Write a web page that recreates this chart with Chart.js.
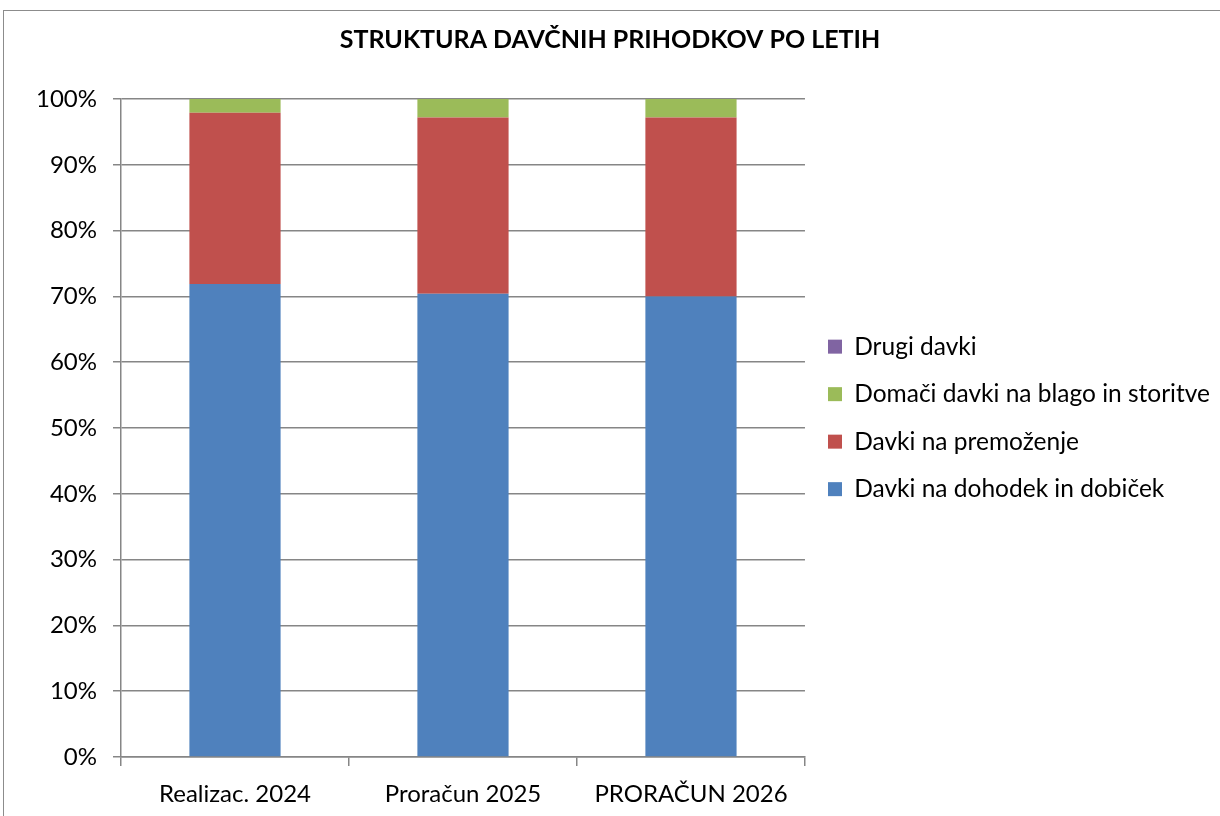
<!DOCTYPE html>
<html lang="sl">
<head>
    <meta charset="UTF-8">
    <title>Struktura davčnih prihodkov po letih</title>
    <script src="https://cdn.jsdelivr.net/npm/chart.js"></script>
    <style>
        body { margin: 0; background: #fff; overflow: hidden; }
        .okvir {
            position: absolute; left: 3px; top: 10px;
            width: 1300px; height: 900px;
            border: 1.5px solid #8c8c8c;
        }
        .platno { position: absolute; left: 0; top: 0; width: 1220px; height: 816px; }
    </style>
</head>
<body>
    <div class="okvir"></div>
    <div class="platno">
        <canvas id="graf" width="1220" height="816"></canvas>
    </div>
<script>
    // podatki (delež v %)
    var leta = ['Realizac. 2024', 'Proračun 2025', 'PRORAČUN 2026'];
    var dohodek = [71.9, 70.4, 70.0];
    var premozenje = [26.0, 26.8, 27.2];
    var blagoStoritve = [2.1, 2.8, 2.8];
    var drugi = [0, 0, 0];
    var odstotki = [0, 10, 20, 30, 40, 50, 60, 70, 80, 90, 100];

    var pisava = 'Lato, "Open Sans", sans-serif';
    var siva = '#868686';

    const data = {
        labels: leta,
        datasets: [
            { label: 'Davki na dohodek in dobiček', data: dohodek, backgroundColor: '#4F81BD' },
            { label: 'Davki na premoženje', data: premozenje, backgroundColor: '#C0504D' },
            { label: 'Domači davki na blago in storitve', data: blagoStoritve, backgroundColor: '#9BBB59' },
            { label: 'Drugi davki', data: drugi, backgroundColor: '#8064A2' }
        ]
    };

    const options = {
        responsive: false,
        animation: false,
        layout: { padding: 0 },
        datasets: { bar: { barPercentage: 0.4, categoryPercentage: 1.0, borderWidth: 0 } },
        plugins: {
            tooltip: { enabled: false },
            title: {
                display: true,
                text: 'STRUKTURA DAVČNIH PRIHODKOV PO LETIH',
                color: '#000',
                font: { family: pisava, size: 25, weight: 'bold' },
                padding: { top: 25, bottom: 44 }
            },
            legend: {
                position: 'right',
                align: 'start',
                fullSize: false,
                reverse: true,
                maxWidth: 418,
                // prazen naslov samo za zamik legende navzdol
                title: { display: true, text: ' ', font: { size: 12 }, padding: { top: 100, bottom: 98 } },
                labels: {
                    color: '#000',
                    font: { family: pisava, size: 24.5 },
                    boxWidth: 14,
                    boxHeight: 14,
                    padding: 23
                }
            }
        },
        scales: {
            x: {
                stacked: true,
                grid: { display: true, drawOnChartArea: false, drawTicks: true, tickLength: 9, color: siva, lineWidth: 1.5, offset: true },
                border: { display: true, color: siva, width: 1.5 },
                ticks: { color: '#000', font: { family: pisava, size: 24 }, padding: 14, maxRotation: 0 },
                afterFit: function (scale) { scale.height = 59; }
            },
            y: {
                stacked: true,
                min: 0,
                max: 100,
                grid: { color: siva, lineWidth: 1.5, drawTicks: true, tickLength: 8 },
                border: { display: true, color: siva, width: 1.5 },
                afterBuildTicks: function (scale) {
                    scale.ticks = odstotki.map(function (v) { return { value: v }; });
                },
                ticks: {
                    color: '#000',
                    font: { family: pisava, size: 24 },
                    padding: 16,
                    callback: function (v) { return v + '%'; }
                },
                afterFit: function (scale) { scale.width = 121; }
            }
        }
    };

    new Chart(document.getElementById('graf'), { type: 'bar', data: data, options: options });
</script>
</body>
</html>
